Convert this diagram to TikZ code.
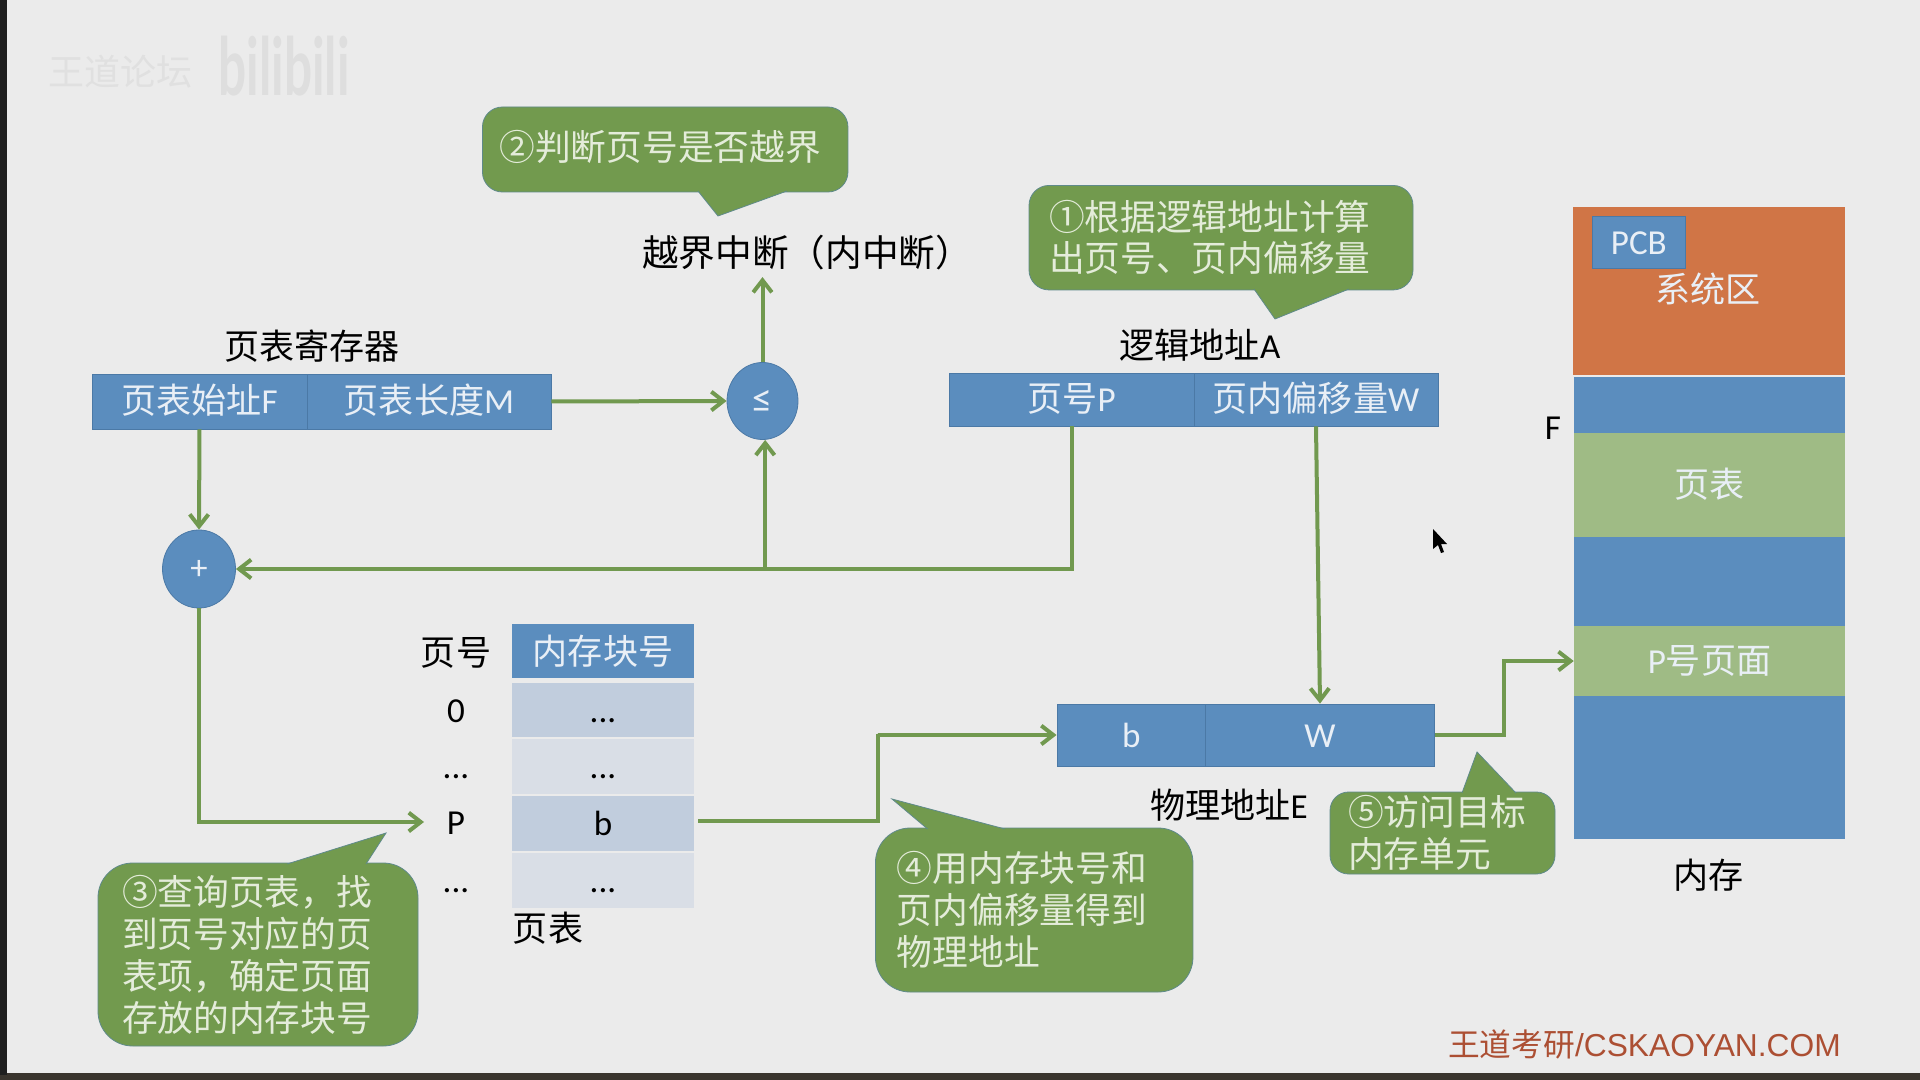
\documentclass[tikz,border=0pt]{standalone}
\usepackage{fontspec}
\setmainfont{Noto Sans CJK SC}[Kerning=Off]
\newfontfamily\lat{Carlito}
\newfontfamily\arialfont{Liberation Sans}
\newfontfamily\wmfont{Lato}[BoldFont=Lato Bold]
\usetikzlibrary{arrows.meta,shapes.geometric}
\definecolor{pagebg}{HTML}{EBEBEB}
\definecolor{boxblue}{HTML}{5B8DBE}
\definecolor{boxedge}{HTML}{4B79A6}
\definecolor{bubble}{HTML}{729A4E}
\definecolor{bubbleedge}{HTML}{5F8A8A}
\definecolor{linkgreen}{HTML}{71994F}
\definecolor{sysorange}{HTML}{D07546}
\definecolor{lightgreen}{HTML}{9FBB85}
\definecolor{rowdark}{HTML}{C1CDDD}
\definecolor{rowlight}{HTML}{D9DEE6}
\definecolor{softwhite}{HTML}{E9EFF6}
\definecolor{bubbletext}{HTML}{E4ECDA}
\definecolor{footred}{HTML}{AC4F33}
\definecolor{darkband}{HTML}{3A352E}
\tikzset{
  basefont/.style={font=\fontsize{26.3pt}{30pt}\selectfont,inner sep=0pt,text height=23.2pt,text depth=5pt},
  label/.style={basefont,text=black},
  size/.style 2 args={minimum width=#1*0.75pt,minimum height=#2*0.75pt},
  cell/.style={basefont,rectangle,draw=boxedge,line width=0.6pt,fill=boxblue,text=softwhite},
  memcell/.style={basefont,rectangle,fill=#1,text=softwhite},
  rowcell/.style={basefont,rectangle,fill=#1,text=black},
  oval/.style={ellipse,draw=boxedge,line width=0.6pt,fill=boxblue,text=softwhite,inner sep=0pt},
  link/.style={draw=linkgreen,line width=3pt,-{Straight Barb[length=9pt,width=14pt]}},
  speech/.style n args={3}{rectangle,rounded corners=#1,draw=bubbleedge,line width=0.6pt,fill=bubble,
    text=bubbletext,align=left,inner ysep=0pt,inner xsep=#2*0.75pt,
    font=\fontsize{26.8pt}{#3}\selectfont},
}
% Pointer of a speech bubble: filled wedge with two outlined sides
\newcommand{\wedgeptr}[3]{%
  \fill[bubble] #1 -- #2 -- #3 -- cycle;
  \draw[bubbleedge,line width=0.6pt] #1 -- #2 -- #3;}
\begin{document}
\begin{tikzpicture}[x=0.75pt,y=-0.75pt]
\useasboundingbox (0,0) rectangle (1920,1080);
% slide surface and the frame around it
\fill[pagebg] (0,0) rectangle (1920,1080);
\fill[darkband] (0,1073) rectangle (1920,1080);
\fill[black!88] (0,0) rectangle (7,1075);

% faint logos in the upper left corner
\node[font=\fontsize{27pt}{30pt}\selectfont,text=white!88!black,inner sep=0pt] (wmname) at (120,72) {王道论坛};
\node[font=\fontsize{60pt}{60pt}\selectfont\wmfont\bfseries,text=white!87!black,inner sep=0pt,xscale=0.62,transform shape] (wmlogo) at (284,66) {bilibili};

% page table register
\node[label] (regtitle) at (312,347) {页表寄存器};
\node[cell,size={215}{55}] (regF) at (199.5,401.5) {页表始址{\lat F}};
\node[cell,size={244}{55}] (regM) at (429,401.5) {页表长度{\lat M}};

% comparator and adder
\node[oval,size={71}{77},font=\fontsize{30pt}{32pt}\selectfont\lat] (leq) at (762.5,401) {≤};
\node[oval,size={73}{78},font=\fontsize{26pt}{28pt}\selectfont\lat,text height=17pt,text depth=2pt] (plus) at (199,569) {+};
\node[label,inner ysep=3pt,font=\fontsize{27.5pt}{30pt}\selectfont] (intr) at (807,254) {越界中断（内中断）};

% logical address
\node[label] (logtitle) at (1200,346.5) {逻辑地址{\lat A}};
\node[cell,size={245}{53}] (pageP) at (1071.5,399.5) {页号{\lat P}};
\node[cell,size={244}{53}] (offW) at (1316,399.5) {页内偏移量{\lat W}};

% physical address
\node[cell,size={148.5}{62}] (physb) at (1131.2,735) {\lat b};
\node[cell,size={229}{62}] (physW) at (1320,735) {\lat W};
\node[label] (phystitle) at (1229,806) {物理地址{\lat E}};

% page table
\node[label] (hdrno) at (456,653) {页号};
\node[cell,draw=none,size={182}{54},text depth=2.5pt] (hdrblock) at (603,651) {内存块号};
\node[rowcell=rowdark,size={182}{54}] (row0) at (603,710) {\lat ...};
\node[rowcell=rowlight,size={182}{55}] (row1) at (603,766.5) {\lat ...};
\node[rowcell=rowdark,size={182}{55}] (rowb) at (603,823.5) {\lat b};
\node[rowcell=rowlight,size={182}{55}] (row3) at (603,880.5) {\lat ...};
\node[label] (no0) at (456,710) {\lat 0};
\node[label] (no1) at (456,766) {\lat ...};
\node[label,inner xsep=17pt] (noP) at (456,822) {\lat P};
\node[label] (no3) at (456,880) {\lat ...};
\node[label] (tabletitle) at (548,929) {页表};

% main memory column
\node[memcell=sysorange,size={272}{168}] (memsys) at (1709,291) {};
\node[text=softwhite,basefont] (systext) at (1708,290) {系统区};
\node[cell,size={92.5}{51.5},text height=24pt] (pcb) at (1638.8,242.3) {\lat PCB};
\node[memcell=boxblue,size={271}{56}] (mem1) at (1709.5,405) {};
\node[memcell=lightgreen,size={271}{104}] (memtable) at (1709.5,485) {页表};
\node[memcell=boxblue,size={271}{89}] (mem2) at (1709.5,581.5) {};
\node[memcell=lightgreen,size={271}{70}] (memP) at (1709.5,661) {{\lat P}号页面};
\node[memcell=boxblue,size={271}{143}] (mem3) at (1709.5,767.5) {};
\node[label] (labelF) at (1553,427) {\lat F};
\node[label] (memtitle) at (1708.5,876) {内存};

% data paths
\draw[link] (regM.east) -- (leq.west);
\draw[link] (leq.north) -- (leq.north |- intr.south);
\draw[link] (regF.south) -- (plus.north);
\draw[link] (pageP.south) |- (plus.east);
\draw[link] ([xshift=2pt]leq.south |- plus.east) -- ([xshift=2pt]leq.south);
\draw[link] (plus.south) |- (noP.west);
\draw[link] (offW.south) -- (physW.north);
\coordinate (bendb) at (877.5,734);
\coordinate (bendout) at (1504,663);
\draw[link] ([shift={(3pt,2pt)}]rowb.east) -| (bendb) |- (physb.west);
\draw[link] (physW.east) -| (bendout) |- (memP.west);

% step callouts
\node[speech={15pt}{17}{30pt},size={365.5}{85},text width=331.5*0.75pt,text height=23pt,text depth=6.5pt] (step2) at (665.2,149.5) {②判断页号是否越界};
\wedgeptr{(698,191)}{(718,216)}{(787,191)}
\node[speech={15pt}{20}{30.5pt},size={384}{104.5},text width=344*0.75pt] (step1) at (1221,237.7) {①根据逻辑地址计算\\出页号、页内偏移量};
\wedgeptr{(1254,289)}{(1275,319)}{(1349,289)}
\node[speech={26pt}{24}{31.5pt},size={320}{183},text width=272*0.75pt] (step3) at (258,954.5) {③查询页表，找\\到页号对应的页\\表项，确定页面\\存放的内存块号};
\wedgeptr{(287,864)}{(386,833)}{(366,864)}
\node[speech={26pt}{21.5}{31.5pt},size={317.5}{164},text width=274.5*0.75pt] (step4) at (1034.2,910) {④用内存块号和\\页内偏移量得到\\物理地址};
\wedgeptr{(927.6,829)}{(892,799)}{(1005,829)}
\node[speech={14pt}{18}{31pt},size={225}{82},text width=189*0.75pt] (step5) at (1442.5,833) {⑤访问目标\\内存单元};
\wedgeptr{(1462,793)}{(1477,752)}{(1516,793)}

% mouse pointer resting on the slide
\fill[black] (1433,529) -- (1433,549) -- (1438,545) -- (1441,553) -- (1444,552) -- (1441,544) -- (1447,544) -- cycle;

% publisher line
\node[anchor=east,inner sep=0pt,text=footred,font=\fontsize{23.8pt}{26pt}\selectfont] (footer) at (1841,1044) {王道考研{\arialfont /CSKAOYAN.COM}};
\end{tikzpicture}
\end{document}
